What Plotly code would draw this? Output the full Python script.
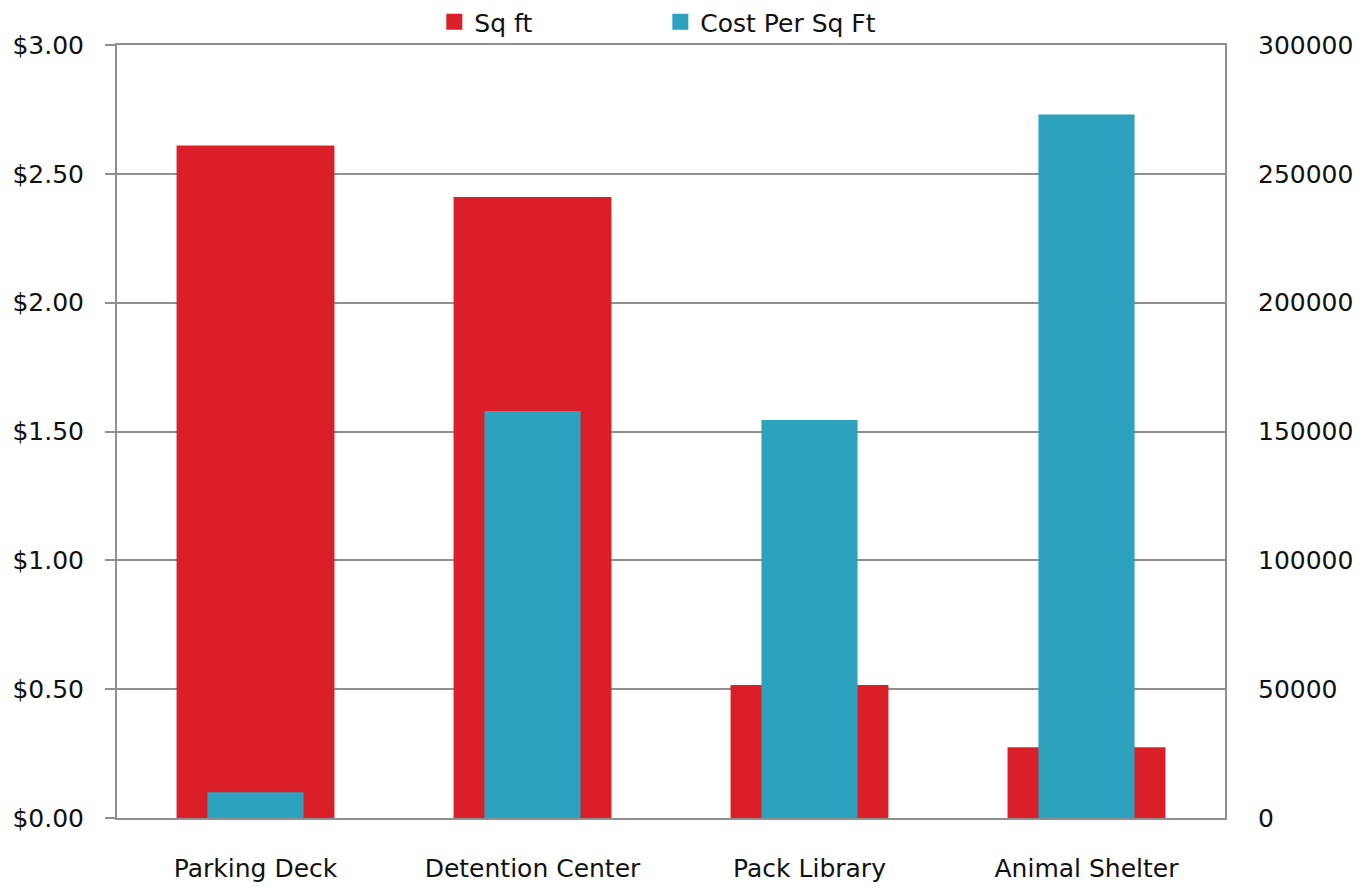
import plotly.graph_objects as go

categories = ["Parking Deck", "Detention Center", "Pack Library", "Animal Shelter"]
sq_ft = [261000, 241000, 51600, 27500]
cost_per_sq_ft = [0.10, 1.58, 1.545, 2.73]
left_ticks = [0, 0.5, 1.0, 1.5, 2.0, 2.5, 3.0]
left_tick_labels = ["$0.00", "$0.50", "$1.00", "$1.50", "$2.00", "$2.50", "$3.00"]
right_ticks = [0, 50000, 100000, 150000, 200000, 250000, 300000]
right_tick_labels = ["0", "50000", "100000", "150000", "200000", "250000", "300000"]

RED = "#DA1F28"
BLUE = "#2CA2BF"
GRID = "#8f8f8f"
FONT = "DejaVu Sans"
FS = 25

fig = go.Figure()
fig.add_trace(go.Bar(
    x=categories, y=sq_ft, name="Sq ft", marker=dict(color=RED, line=dict(width=0)),
    width=0.57, yaxis="y", showlegend=False,
))
fig.add_trace(go.Bar(
    x=categories, y=cost_per_sq_ft, name="Cost Per Sq Ft", marker=dict(color=BLUE, line=dict(width=0)),
    width=0.347, yaxis="y2", showlegend=False,
))
# legend entries with larger square symbols
fig.add_trace(go.Scatter(
    x=[None], y=[None], mode="markers", name="Sq ft",
    marker=dict(symbol="square", size=17, color=RED), yaxis="y",
))
fig.add_trace(go.Scatter(
    x=[None], y=[None], mode="markers", name="Cost Per Sq Ft",
    marker=dict(symbol="square", size=17, color=BLUE), yaxis="y",
))

# the page body has an 8px default margin, so the figure is sized to fit
fig.update_layout(
    width=1358, height=880,
    margin=dict(l=109, r=141, t=37, b=70, autoexpand=False),
    paper_bgcolor="white", plot_bgcolor="white",
    font=dict(family=FONT, size=FS, color="#111111"),
    barmode="overlay",
    showlegend=True,
    legend=dict(
        orientation="h", x=0.2864, xanchor="left", y=1.0, yanchor="bottom",
        font=dict(size=FS), entrywidth=181, itemwidth=30, bgcolor="rgba(0,0,0,0)",
        itemsizing="trace",
    ),
    xaxis=dict(
        type="category", showgrid=False, ticks="", ticklabelstandoff=27,
        showline=True, linecolor=GRID, linewidth=2, mirror=True,
        tickfont=dict(size=FS),
    ),
    yaxis=dict(
        side="right", range=[0, 300000], tickvals=right_ticks, ticktext=right_tick_labels,
        showgrid=True, gridcolor=GRID, gridwidth=1.5, zeroline=False,
        showline=True, linecolor=GRID, linewidth=2, ticks="",
        ticklabelstandoff=26, tickfont=dict(size=FS),
    ),
    yaxis2=dict(
        side="left", overlaying="y", range=[0, 3.0], tickvals=left_ticks,
        ticktext=left_tick_labels, showgrid=False, zeroline=False,
        showline=True, linecolor=GRID, linewidth=2,
        ticks="outside", ticklen=10, tickcolor=GRID, tickwidth=2,
        ticklabelstandoff=16, tickfont=dict(size=FS),
    ),
)

fig.write_html("out.html")
